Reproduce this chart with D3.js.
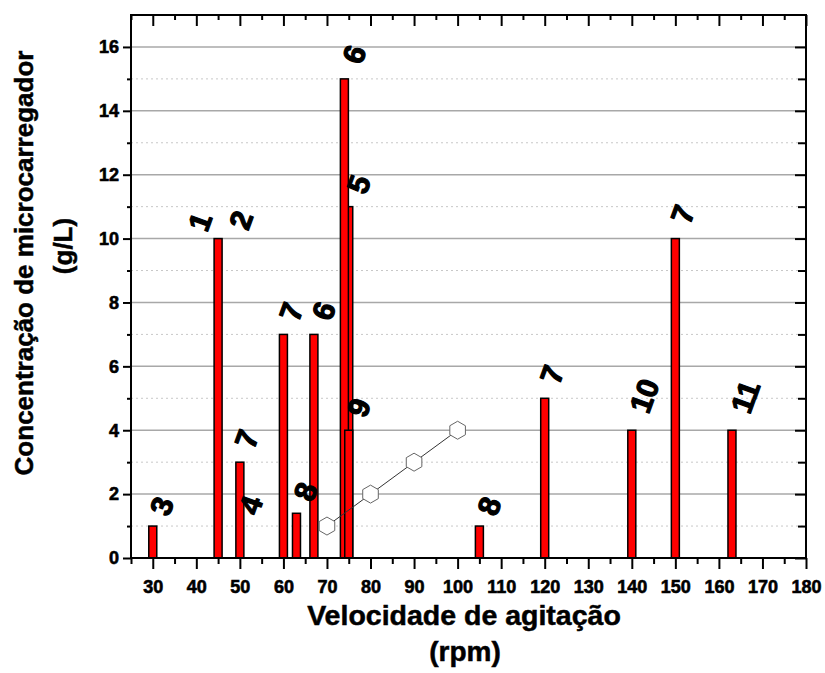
<!DOCTYPE html>
<html>
<head>
<meta charset="utf-8">
<script src="https://cdn.jsdelivr.net/npm/d3@7"></script>
<style>
  html, body { margin: 0; padding: 0; background: #fff; }
  svg { display: block; font-family: "Liberation Sans", Arial, sans-serif; }
</style>
</head>
<body>
<svg id="chart" width="825" height="673"></svg>
<script>
// Agitation speed (rpm) and microcarrier concentration (g/L) for each bar
const barSpeed = [30, 45, 50, 60, 63, 67, 75, 74, 75, 105, 120, 140, 150, 163];
const barConc  = [1, 10, 3, 7, 1.4, 7, 11, 15, 4, 1, 5, 4, 10, 4];

// Reference numbers written beside the bars (anchor in data units)
const refText = ["3", "1", "2", "7", "4", "7", "8", "6", "6", "5", "9", "8", "7", "10", "7", "11"];
const refX    = [32.0, 40.8, 50.2, 51.5, 52.4, 61.7, 65.0, 69.2, 76.2, 77.2, 77.2, 107.2, 121.6, 142.8, 151.6, 166.0];
const refY    = [1.63, 10.53, 10.58, 3.73, 1.66, 7.71, 2.08, 7.74, 15.77, 11.70, 4.71, 1.63, 5.75, 5.08, 10.76, 5.05];

// Linear series drawn with hexagon markers
const lineSpeed = [70, 80, 90, 100];
const lineConc  = [1, 2, 3, 4];

// Axis ticks
const xMajor = d3.range(30, 181, 10);
const xMinor = d3.range(25, 181, 5).filter(v => v % 10 !== 0);
const yMajor = d3.range(0, 17, 2);
const yMinor = d3.range(1, 17, 2);

const svg = d3.select("#chart");
const L = 131, R = 806, T = 15, B = 558;

const x = d3.scaleLinear().domain([25, 180]).range([L, R]);
const y = d3.scaleLinear().domain([0, 17]).range([B, T]);

// grid
const grid = svg.append("g");
grid.selectAll("line.minor").data(yMinor).join("line")
  .attr("x1", L).attr("x2", R)
  .attr("y1", d => y(d)).attr("y2", d => y(d))
  .attr("stroke", "#c8c8c8").attr("stroke-width", 1)
  .attr("stroke-dasharray", "2,3");
grid.selectAll("line.major").data(yMajor.filter(d => d > 0)).join("line")
  .attr("x1", L).attr("x2", R)
  .attr("y1", d => y(d)).attr("y2", d => y(d))
  .attr("stroke", "#a8a8a8").attr("stroke-width", 1.5);

// bars
const barW = 8;
svg.append("g").selectAll("rect").data(barSpeed.map((s, i) => ({ s, c: barConc[i] }))).join("rect")
  .attr("x", d => x(d.s) - barW / 2)
  .attr("y", d => y(d.c))
  .attr("width", barW)
  .attr("height", d => y(0) - y(d.c))
  .attr("fill", "#ff0000")
  .attr("stroke", "#000")
  .attr("stroke-width", 1.5);

// connecting line and hexagon markers
const pts = lineSpeed.map((s, i) => [x(s), y(lineConc[i])]);
svg.append("path")
  .attr("d", d3.line()(pts))
  .attr("fill", "none").attr("stroke", "#333").attr("stroke-width", 1);
const hexR = 9;
const hex = d3.line()(d3.range(6).map(k => {
  const a = Math.PI / 2 + k * Math.PI / 3;
  return [hexR * Math.cos(a), hexR * Math.sin(a)];
})) + "Z";
svg.append("g").selectAll("path").data(pts).join("path")
  .attr("d", hex)
  .attr("transform", d => `translate(${d[0]},${d[1]})`)
  .attr("fill", "#fff").attr("stroke", "#666").attr("stroke-width", 1);

// reference numbers
svg.append("g").selectAll("text").data(refText.map((t, i) => ({ t, px: x(refX[i]), py: y(refY[i]) }))).join("text")
  .attr("transform", d => `translate(${d.px},${d.py}) rotate(-70)`)
  .attr("text-anchor", "middle")
  .attr("dy", "0.36em")
  .attr("font-size", 30).attr("font-weight", "bold")
  .attr("fill", "#000").attr("stroke", "#000").attr("stroke-width", 1.2)
  .attr("stroke-linejoin", "round")
  .text(d => d.t);

// axes
function styleAxis(g) {
  g.select(".domain").remove();
  g.selectAll(".tick line").attr("stroke", "#000").attr("stroke-width", 2);
  g.selectAll("text").attr("font-size", 18).attr("font-weight", "bold")
    .attr("fill", "#000").attr("stroke", "#000").attr("stroke-width", 0.6)
    .attr("font-family", "'Liberation Sans', Arial, sans-serif");
}
svg.append("g").attr("transform", `translate(0,${B})`)
  .call(d3.axisBottom(x).tickValues(xMajor).tickSize(11).tickPadding(11).tickFormat(d3.format("d")))
  .call(styleAxis);
svg.append("g").attr("transform", `translate(0,${B})`)
  .call(d3.axisBottom(x).tickValues(xMinor).tickSize(6).tickFormat(""))
  .call(styleAxis);
svg.append("g").attr("transform", `translate(0,${T})`)
  .call(d3.axisTop(x).tickValues(xMajor).tickSize(-11).tickFormat(""))
  .call(styleAxis);
svg.append("g").attr("transform", `translate(0,${T})`)
  .call(d3.axisTop(x).tickValues(xMinor).tickSize(-5).tickFormat(""))
  .call(styleAxis);
svg.append("g").attr("transform", `translate(${L},0)`)
  .call(d3.axisLeft(y).tickValues(yMajor).tickSize(8).tickPadding(4).tickFormat(d3.format("d")))
  .call(styleAxis);
svg.append("g").attr("transform", `translate(${L},0)`)
  .call(d3.axisLeft(y).tickValues(yMinor).tickSize(4).tickFormat(""))
  .call(styleAxis);
svg.append("g").attr("transform", `translate(${R},0)`)
  .call(d3.axisRight(y).tickValues(yMajor).tickSize(-11).tickFormat(""))
  .call(styleAxis);
svg.append("g").attr("transform", `translate(${R},0)`)
  .call(d3.axisRight(y).tickValues(yMinor).tickSize(-8).tickFormat(""))
  .call(styleAxis);

// frame
svg.append("rect")
  .attr("x", L).attr("y", T).attr("width", R - L).attr("height", B - T)
  .attr("fill", "none").attr("stroke", "#000").attr("stroke-width", 2);

// titles
const titles = svg.append("g")
  .attr("font-weight", "bold").attr("text-anchor", "middle")
  .attr("fill", "#000").attr("stroke", "#000").attr("stroke-width", 0.5);
titles.append("text")
  .attr("x", 464).attr("y", 625).attr("font-size", 28.5)
  .text("Velocidade de agitação");
titles.append("text")
  .attr("x", 465).attr("y", 661).attr("font-size", 28)
  .text("(rpm)");
titles.append("text")
  .attr("transform", "translate(33,263) rotate(-90)").attr("font-size", 26)
  .text("Concentração de microcarregador");
titles.append("text")
  .attr("transform", "translate(72,246) rotate(-90)").attr("font-size", 26)
  .text("(g/L)");
</script>
</body>
</html>
